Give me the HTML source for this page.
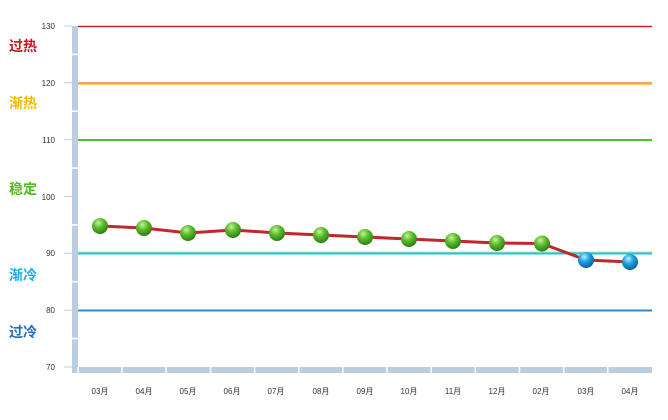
<!DOCTYPE html>
<html><head><meta charset="utf-8"><style>
body{margin:0;background:#fff;width:668px;height:415px;overflow:hidden}
text{font-family:"Liberation Sans","Noto Sans CJK SC",sans-serif}
</style></head><body>
<svg width="668" height="415" xmlns="http://www.w3.org/2000/svg">
<defs>
<radialGradient id="g" cx="40%" cy="30%" r="70%"><stop offset="0" stop-color="#c8f0a0"/><stop offset="0.45" stop-color="#5cbf2a"/><stop offset="1" stop-color="#2e7d12"/></radialGradient>
<radialGradient id="b" cx="40%" cy="30%" r="70%"><stop offset="0" stop-color="#b8ecff"/><stop offset="0.45" stop-color="#1fa4e0"/><stop offset="1" stop-color="#0a5f9e"/></radialGradient>
</defs>
<rect x="72" y="26" width="6" height="347" fill="#bccddf"/>
<rect x="72" y="367" width="580" height="6" fill="#bccddf"/>
<g stroke="#fff" stroke-width="1.5">
<line x1="72" y1="54.4" x2="78" y2="54.4"/><line x1="72" y1="111.2" x2="78" y2="111.2"/><line x1="72" y1="168.1" x2="78" y2="168.1"/><line x1="72" y1="224.9" x2="78" y2="224.9"/><line x1="72" y1="281.7" x2="78" y2="281.7"/><line x1="72" y1="338.6" x2="78" y2="338.6"/>
<line x1="78" y1="367" x2="78" y2="373"/><line x1="122" y1="367" x2="122" y2="373"/><line x1="166" y1="367" x2="166" y2="373"/><line x1="210.5" y1="367" x2="210.5" y2="373"/><line x1="254.6" y1="367" x2="254.6" y2="373"/><line x1="298.8" y1="367" x2="298.8" y2="373"/><line x1="342.9" y1="367" x2="342.9" y2="373"/><line x1="387" y1="367" x2="387" y2="373"/><line x1="431.2" y1="367" x2="431.2" y2="373"/><line x1="475.4" y1="367" x2="475.4" y2="373"/><line x1="519.5" y1="367" x2="519.5" y2="373"/><line x1="563.7" y1="367" x2="563.7" y2="373"/><line x1="607.8" y1="367" x2="607.8" y2="373"/>
</g>
<g stroke="#bccddf" stroke-width="1">
<line x1="64" y1="26" x2="72" y2="26"/><line x1="64" y1="82.8" x2="72" y2="82.8"/><line x1="64" y1="139.7" x2="72" y2="139.7"/><line x1="64" y1="196.5" x2="72" y2="196.5"/><line x1="64" y1="253.3" x2="72" y2="253.3"/><line x1="64" y1="310.2" x2="72" y2="310.2"/><line x1="64" y1="367" x2="72" y2="367"/>
</g>
<g font-size="8" fill="#333" text-anchor="end">
<text x="55" y="29">130</text><text x="55" y="86">120</text><text x="55" y="143">110</text><text x="55" y="200">100</text><text x="55" y="256">90</text><text x="55" y="313">80</text><text x="55" y="370">70</text>
</g>
<line x1="78" y1="26.5" x2="652" y2="26.5" stroke="#d21e1e" stroke-width="1.5"/>
<line x1="78" y1="83" x2="652" y2="83" stroke="#f0a080" stroke-width="2"/>
<line x1="78" y1="84.5" x2="652" y2="84.5" stroke="#f5d060" stroke-width="1"/>
<line x1="78" y1="140" x2="652" y2="140" stroke="#4cc22a" stroke-width="2"/>
<line x1="78" y1="253.5" x2="652" y2="253.5" stroke="#22c0e8" stroke-width="2"/>
<line x1="78" y1="252" x2="652" y2="252" stroke="#b8e8a0" stroke-width="1"/>
<line x1="78" y1="310.5" x2="652" y2="310.5" stroke="#3388cc" stroke-width="2"/>
<g font-size="14" font-weight="bold">
<text x="9" y="51" fill="#c8161e">过热</text>
<text x="9" y="108" fill="#f5b800">渐热</text>
<text x="9" y="194" fill="#55bb22">稳定</text>
<text x="9" y="280" fill="#18b0e8">渐冷</text>
<text x="9" y="337" fill="#1a70c0">过冷</text>
</g>
<polyline fill="none" stroke="#c0282b" stroke-width="3" stroke-linejoin="round" points="100,226 144,228 188,233 233,230 277,233 321,235 365,237 409,239 453,241 497,243 542,243.5 586,260 630,262"/>
<g>
<circle cx="100" cy="226" r="8" fill="url(#g)"/><circle cx="144" cy="228" r="8" fill="url(#g)"/><circle cx="188" cy="233" r="8" fill="url(#g)"/><circle cx="233" cy="230" r="8" fill="url(#g)"/><circle cx="277" cy="233" r="8" fill="url(#g)"/><circle cx="321" cy="235" r="8" fill="url(#g)"/><circle cx="365" cy="237" r="8" fill="url(#g)"/><circle cx="409" cy="239" r="8" fill="url(#g)"/><circle cx="453" cy="241" r="8" fill="url(#g)"/><circle cx="497" cy="243" r="8" fill="url(#g)"/><circle cx="542" cy="243.5" r="8" fill="url(#g)"/>
<circle cx="586" cy="260" r="8" fill="url(#b)"/><circle cx="630" cy="262" r="8" fill="url(#b)"/>
</g>
<g font-size="8" fill="#333" text-anchor="middle">
<text x="100" y="394">03月</text><text x="144" y="394">04月</text><text x="188" y="394">05月</text><text x="232" y="394">06月</text><text x="276" y="394">07月</text><text x="321" y="394">08月</text><text x="365" y="394">09月</text><text x="409" y="394">10月</text><text x="453" y="394">11月</text><text x="497" y="394">12月</text><text x="541" y="394">02月</text><text x="586" y="394">03月</text><text x="630" y="394">04月</text>
</g>
</svg>
</body></html>
